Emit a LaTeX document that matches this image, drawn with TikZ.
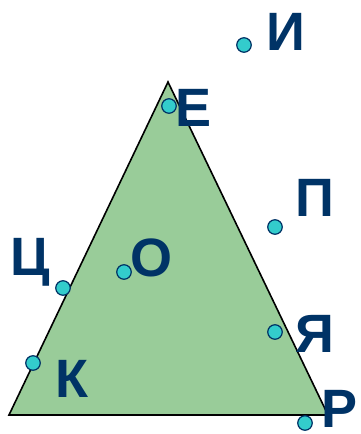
\documentclass[tikz,border=0pt]{standalone}
\usepackage{fontspec}
\setmainfont{Liberation Sans}
\usepackage{tikz}
\usetikzlibrary{positioning}
\definecolor{LetterBlue}{RGB}{0,51,102}
\definecolor{DotCyan}{RGB}{51,204,204}
\definecolor{AreaGreen}{RGB}{153,204,153}

\begin{document}
\begin{tikzpicture}[x=1pt,y=-1pt,
        pt/.style={circle,draw=LetterBlue,fill=DotCyan,line width=1.2pt,
                   minimum size=14.5pt,inner sep=0pt},
        letter/.style={anchor=base,inner sep=0pt,text=LetterBlue,
                   font=\fontsize{54}{60}\selectfont\bfseries},
        area/.style={fill=AreaGreen,draw=black,line width=1.6pt,line join=miter}
      ]
        \useasboundingbox (0,0) rectangle (360,434);
        % triangle corners
        \coordinate (T) at (168,82);
        \coordinate (L) at (9,415);
        \coordinate (R) at (328,415);
        \filldraw[area] (T) -- (L) -- (R) -- cycle;
        % points
        \node[pt] (i) at (244,45) {};
        \node[pt] (e) at (169,106) {};
        \node[pt] (p) at (275,227) {};
        \node[pt] (c) at (63,288) {};
        \node[pt] (o) at (124,272) {};
        \node[pt] (ya) at (275,332) {};
        \node[pt] (k) at (33,363) {};
        \node[pt] (r) at (305,423) {};
        % labels
        \node[letter] (iL) at (286,50) {И};
        \node[letter] (eL) at (194,126) {Е};
        \node[letter] (pL) at (315,216) {П};
        \node[letter] (cL) at (30,275) {Ц};
        \node[letter] (oL) at (151,276) {О};
        \node[letter] (yaL) at (315,352) {Я};
        \node[letter] (kL) at (72,397) {К};
        \node[letter] (rL) at (340,427) {Р};
      \end{tikzpicture}
\end{document}
